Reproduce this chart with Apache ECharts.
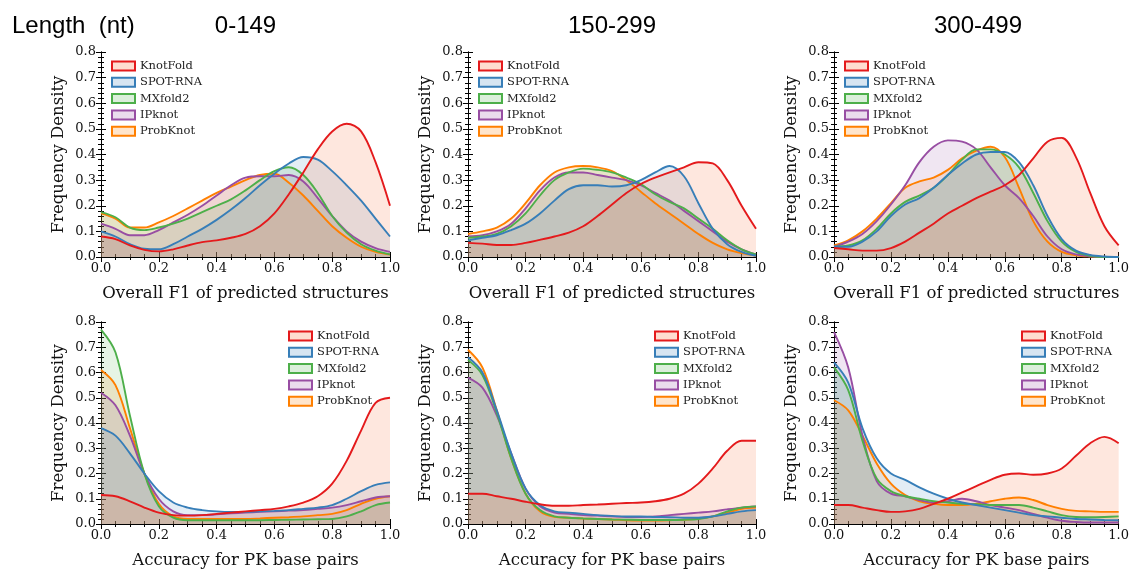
<!DOCTYPE html>
<html>
<head>
<meta charset="utf-8">
<script src="https://cdn.jsdelivr.net/npm/echarts@6/dist/echarts.min.js"></script>
<style>
  html, body { margin: 0; padding: 0; background: #fff; }
  #main { width: 1132px; height: 570px; }
</style>
</head>
<body>
<div id="main"></div>
<script>
// x grid shared by every density curve
var xs = [0, 0.05, 0.1, 0.15, 0.2, 0.25, 0.3, 0.35, 0.4, 0.45, 0.5,
          0.55, 0.6, 0.65, 0.7, 0.75, 0.8, 0.85, 0.9, 0.95, 1.0];

var methods = ["KnotFold", "SPOT-RNA", "MXfold2", "IPknot", "ProbKnot"];
var colors = ["#e41a1c", "#377eb8", "#4daf4a", "#984ea3", "#ff7f00"];
var fills = ["rgba(250,128,80,0.27)", "rgba(55,126,184,0.2)", "rgba(77,175,74,0.2)",
             "rgba(152,78,163,0.2)", "rgba(255,127,0,0.2)"];

var lengthBins = ["0-149", "150-299", "300-499"];
var xNames = ["Overall F1 of predicted structures", "Accuracy for PK base pairs"];

// overall F1, length 0-149 (order = methods)
var f1Short = [
  [0.08, 0.07, 0.045, 0.028, 0.022, 0.03, 0.045, 0.058, 0.065, 0.075, 0.09, 0.12, 0.17, 0.245, 0.33, 0.42, 0.49, 0.52, 0.49, 0.37, 0.2],
  [0.1, 0.08, 0.05, 0.032, 0.03, 0.05, 0.08, 0.11, 0.145, 0.185, 0.23, 0.28, 0.325, 0.365, 0.39, 0.38, 0.335, 0.28, 0.22, 0.15, 0.08],
  [0.175, 0.155, 0.115, 0.105, 0.115, 0.13, 0.15, 0.175, 0.2, 0.225, 0.26, 0.3, 0.335, 0.35, 0.32, 0.25, 0.16, 0.095, 0.05, 0.025, 0.01],
  [0.13, 0.11, 0.085, 0.085, 0.105, 0.135, 0.165, 0.2, 0.24, 0.28, 0.31, 0.315, 0.315, 0.32, 0.295, 0.23, 0.16, 0.1, 0.06, 0.035, 0.02],
  [0.17, 0.15, 0.115, 0.115, 0.135, 0.16, 0.19, 0.22, 0.25, 0.275, 0.3, 0.32, 0.325, 0.29, 0.24, 0.18, 0.12, 0.075, 0.04, 0.02, 0.01]
];
// overall F1, length 150-299
var f1Mid = [
  [0.055, 0.052, 0.047, 0.047, 0.055, 0.067, 0.08, 0.095, 0.12, 0.16, 0.205, 0.25, 0.285, 0.31, 0.33, 0.35, 0.37, 0.365, 0.3, 0.2, 0.11],
  [0.065, 0.075, 0.085, 0.105, 0.13, 0.17, 0.22, 0.265, 0.28, 0.28, 0.275, 0.28, 0.3, 0.33, 0.355, 0.315, 0.21, 0.11, 0.05, 0.02, 0.005],
  [0.075, 0.08, 0.09, 0.12, 0.17, 0.24, 0.3, 0.33, 0.345, 0.34, 0.33, 0.31, 0.285, 0.245, 0.215, 0.19, 0.15, 0.11, 0.065, 0.03, 0.01],
  [0.08, 0.085, 0.1, 0.13, 0.19, 0.26, 0.31, 0.33, 0.33, 0.32, 0.31, 0.3, 0.28, 0.25, 0.22, 0.18, 0.14, 0.1, 0.06, 0.03, 0.01],
  [0.09, 0.1, 0.115, 0.15, 0.21, 0.28, 0.33, 0.35, 0.355, 0.35, 0.335, 0.3, 0.255, 0.21, 0.17, 0.13, 0.09, 0.055, 0.03, 0.015, 0.005]
];
// overall F1, length 300-499
var f1Long = [
  [0.035, 0.03, 0.025, 0.025, 0.035, 0.06, 0.095, 0.13, 0.17, 0.2, 0.23, 0.255, 0.28, 0.32, 0.385, 0.45, 0.465, 0.39, 0.25, 0.12, 0.045],
  [0.04, 0.04, 0.06, 0.1, 0.16, 0.205, 0.23, 0.27, 0.32, 0.365, 0.4, 0.41, 0.41, 0.37, 0.28, 0.16, 0.07, 0.025, 0.008, 0.002, 0.0],
  [0.04, 0.045, 0.065, 0.11, 0.17, 0.215, 0.24, 0.27, 0.32, 0.38, 0.42, 0.42, 0.4, 0.35, 0.25, 0.14, 0.06, 0.02, 0.005, 0.0, 0.0],
  [0.04, 0.06, 0.09, 0.14, 0.205, 0.28, 0.37, 0.43, 0.455, 0.45, 0.42, 0.35, 0.28, 0.23, 0.16, 0.08, 0.03, 0.01, 0.003, 0.0, 0.0],
  [0.045, 0.065, 0.1, 0.15, 0.21, 0.27, 0.295, 0.31, 0.34, 0.385, 0.415, 0.43, 0.39, 0.27, 0.14, 0.06, 0.02, 0.007, 0.002, 0.0, 0.0]
];
// PK accuracy, length 0-149
var pkShort = [
  [0.115, 0.11, 0.09, 0.065, 0.045, 0.035, 0.033, 0.035, 0.04, 0.045, 0.05, 0.055, 0.06, 0.07, 0.085, 0.11, 0.16, 0.25, 0.37, 0.48, 0.5],
  [0.38, 0.35, 0.28, 0.2, 0.13, 0.085, 0.065, 0.055, 0.05, 0.048, 0.048, 0.05, 0.052, 0.055, 0.06, 0.065, 0.075, 0.1, 0.13, 0.155, 0.165],
  [0.77, 0.68, 0.43, 0.2, 0.07, 0.025, 0.015, 0.015, 0.015, 0.015, 0.015, 0.015, 0.016, 0.017, 0.018, 0.019, 0.02, 0.03, 0.05, 0.075, 0.085],
  [0.52, 0.47, 0.35, 0.2, 0.1, 0.05, 0.035, 0.035, 0.038, 0.042, 0.045, 0.048, 0.05, 0.053, 0.055, 0.06, 0.065, 0.075, 0.09, 0.105, 0.11],
  [0.61, 0.55, 0.38, 0.2, 0.08, 0.03, 0.02, 0.02, 0.02, 0.02, 0.02, 0.022, 0.025, 0.027, 0.03, 0.035, 0.04, 0.055, 0.08, 0.1, 0.11]
];
// PK accuracy, length 150-299
var pkMid = [
  [0.12, 0.12, 0.11, 0.1, 0.088, 0.078, 0.072, 0.072, 0.075, 0.077, 0.08, 0.083, 0.085, 0.09, 0.1, 0.12, 0.16, 0.22, 0.29, 0.33, 0.33],
  [0.66, 0.6, 0.45, 0.28, 0.14, 0.075, 0.05, 0.045, 0.04, 0.035, 0.032, 0.03, 0.03, 0.028, 0.027, 0.025, 0.025, 0.03, 0.04, 0.05, 0.055],
  [0.65, 0.59, 0.44, 0.26, 0.12, 0.055, 0.03, 0.025, 0.022, 0.02, 0.018, 0.017, 0.016, 0.016, 0.016, 0.017, 0.02, 0.03, 0.05, 0.065, 0.07],
  [0.58, 0.54, 0.43, 0.28, 0.14, 0.07, 0.045, 0.04, 0.035, 0.033, 0.03, 0.028, 0.028, 0.03, 0.035, 0.04, 0.045, 0.05, 0.058, 0.065, 0.07],
  [0.69, 0.62, 0.45, 0.26, 0.12, 0.05, 0.028, 0.025, 0.022, 0.02, 0.018, 0.015, 0.014, 0.014, 0.015, 0.017, 0.022, 0.03, 0.045, 0.06, 0.065]
];
// PK accuracy, length 300-499
var pkLong = [
  [0.075, 0.075, 0.065, 0.055, 0.048, 0.05, 0.06, 0.08, 0.1, 0.125, 0.15, 0.175, 0.195, 0.2, 0.195, 0.2, 0.22, 0.27, 0.32, 0.345, 0.32],
  [0.64, 0.56, 0.38, 0.26, 0.2, 0.175, 0.145, 0.12, 0.1, 0.085, 0.075, 0.065, 0.055, 0.045, 0.035, 0.03, 0.025, 0.02, 0.018, 0.016, 0.015],
  [0.62, 0.53, 0.33, 0.18, 0.13, 0.11, 0.1, 0.09, 0.085, 0.08, 0.078, 0.075, 0.075, 0.075, 0.065, 0.05, 0.035, 0.028, 0.027, 0.028, 0.03],
  [0.76, 0.62, 0.35, 0.17, 0.12, 0.11, 0.095, 0.085, 0.09, 0.1, 0.09, 0.075, 0.065, 0.055, 0.04, 0.025, 0.013, 0.008, 0.006, 0.006, 0.006],
  [0.49, 0.45, 0.35, 0.24, 0.16, 0.115, 0.09, 0.08, 0.075, 0.075, 0.08, 0.09, 0.1, 0.105, 0.095, 0.075, 0.06, 0.052, 0.05, 0.048, 0.048]
];

var panels = [f1Short, f1Mid, f1Long, pkShort, pkMid, pkLong];

var chart = echarts.init(document.getElementById("main"));

var serif = "DejaVu Serif";
var colLeft = [101, 468, 834];
var colWidth = [289, 288, 288];
var rowTop = [52, 322];
var rowHeight = [205, 206];
var legendLeftBottom = [288, 654, 1021];

var grids = [], xAxes = [], yAxes = [], series = [], legends = [], graphics = [];

graphics.push({
  type: "text", x: 12, y: 26,
  style: { text: "Length  (nt)", font: "24px 'Liberation Sans'", fill: "#000", textVerticalAlign: "middle" }
});

function tickAxis(extra) {
  var base = {
    type: "value",
    axisLine: { show: true, lineStyle: { color: "#000", width: 1 } },
    axisTick: { show: true, inside: true, length: 5, lineStyle: { color: "#000" } },
    splitLine: { show: false }
  };
  for (var k in extra) base[k] = extra[k];
  return base;
}

for (var p = 0; p < 6; p++) {
  var row = p < 3 ? 0 : 1;
  var col = p % 3;
  grids.push({
    left: colLeft[col], top: rowTop[row],
    width: colWidth[col], height: rowHeight[row]
  });

  if (row === 0) {
    graphics.push({
      type: "text",
      x: colLeft[col] + colWidth[col] / 2, y: 26,
      style: {
        text: lengthBins[col], font: "24px 'Liberation Sans'", fill: "#000",
        textAlign: "center", textVerticalAlign: "middle"
      }
    });
  }

  // bottom / left axes carry labels, top / right ones only ticks
  xAxes.push(tickAxis({
    gridIndex: p, min: 0, max: 1, interval: 0.2,
    name: xNames[row], nameLocation: "middle", nameGap: 28,
    nameTextStyle: { fontFamily: serif, fontSize: 16.5, color: "#111" },
    minorTick: { show: true, splitNumber: 4, length: 3, lineStyle: { color: "#000" } },
    axisLabel: {
      fontFamily: serif, fontSize: 13, color: "#111", margin: 5,
      formatter: function (v) { return v.toFixed(1); }
    }
  }));
  xAxes.push(tickAxis({
    gridIndex: p, min: 0, max: 1, interval: 0.2, position: "top",
    minorTick: { show: true, splitNumber: 4, length: 3, lineStyle: { color: "#000" } },
    axisLabel: { show: false }
  }));
  yAxes.push(tickAxis({
    gridIndex: p, min: 0, max: 0.8, interval: 0.1,
    name: "Frequency Density", nameLocation: "middle", nameGap: 34,
    nameTextStyle: { fontFamily: serif, fontSize: 16.5, color: "#111" },
    minorTick: { show: true, splitNumber: 5, length: 3, lineStyle: { color: "#000" } },
    axisLabel: {
      fontFamily: serif, fontSize: 13, color: "#111", margin: 5,
      formatter: function (v) { return v.toFixed(1); }
    }
  }));
  yAxes.push(tickAxis({
    gridIndex: p, min: 0, max: 0.8, interval: 0.1, position: "right",
    minorTick: { show: true, splitNumber: 5, length: 3, lineStyle: { color: "#000" } },
    axisLabel: { show: false }
  }));

  // last method drawn first so KnotFold ends up on top
  for (var m = methods.length - 1; m >= 0; m--) {
    var vals = panels[p][m];
    series.push({
      name: methods[m], type: "line",
      xAxisIndex: 2 * p, yAxisIndex: 2 * p,
      data: xs.map(function (x, i) { return [x, vals[i]]; }),
      smooth: 0.35, showSymbol: false, symbol: "none", clip: true,
      lineStyle: { color: colors[m], width: 1.9 },
      itemStyle: { color: colors[m] },
      areaStyle: { color: fills[m] }
    });
  }

  legends.push({
    orient: "vertical",
    left: row === 0 ? colLeft[col] + 10 : legendLeftBottom[col],
    top: rowTop[row] + 8,
    padding: 0,
    itemWidth: 23, itemHeight: 9, itemGap: 4.3,
    selectedMode: false,
    textStyle: { fontFamily: serif, fontSize: 11.5, color: "#222" },
    data: methods.map(function (name, i) {
      return {
        name: name, icon: "rect",
        itemStyle: { color: fills[i], borderColor: colors[i], borderWidth: 2 }
      };
    })
  });
}

var option = {
  backgroundColor: "#fff",
  animation: false,
  graphic: graphics,
  legend: legends,
  grid: grids,
  xAxis: xAxes,
  yAxis: yAxes,
  series: series
};
chart.setOption(option);
</script>
</body>
</html>
